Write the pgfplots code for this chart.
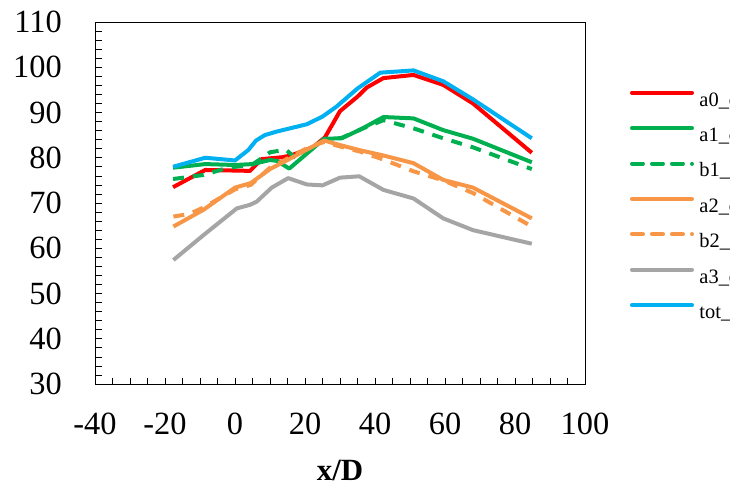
\documentclass[border=0pt]{standalone}
\usepackage{fontspec}
\setmainfont{Liberation Serif}
\usepackage{pgfplots}
\pgfplotsset{compat=1.18}
\definecolor{cred}{RGB}{255,0,0}
\definecolor{cgreen}{RGB}{0,176,80}
\definecolor{corange}{RGB}{247,150,70}
\definecolor{cgray}{RGB}{165,165,165}
\definecolor{cblue}{RGB}{0,176,240}
\begin{document}
\begin{tikzpicture}
\useasboundingbox (0,0) rectangle (730bp,486bp);
\clip (0,0) rectangle (730bp,486bp);
\begin{axis}[
  at={(95bp,102bp)}, anchor=south west,
  scale only axis, width=490bp, height=362bp,
  xmin=-40, xmax=100, ymin=30, ymax=110,
  xtick={-40,-20,...,100}, ytick={30,40,...,110},
  minor x tick num=3, minor y tick num=4,
  tick pos=left,
  tick align=inside, major tick length=6.5bp, minor tick length=6.5bp,
  tick style={black, line width=0.6bp},
  axis line style={black, line width=0.8bp},
  /pgf/number format/assume math mode=true,
  ticklabel style={font=\fontsize{32.5}{36}\selectfont},
  xticklabel style={anchor=north, inner sep=0pt, yshift=-29bp},
  yticklabel style={anchor=east, inner sep=0pt, xshift=-33bp},
  xlabel={\textbf{x/D}},
  xlabel style={at={(axis description cs:0.5,0)}, anchor=north, inner sep=0pt, yshift=-76bp, font=\fontsize{31}{34}\selectfont},
  every axis plot/.append style={line width=4bp, line join=round},
  legend style={at={(axis description cs:1.0918,0.8102)}, anchor=north west, draw=none, fill=none, inner sep=0pt, outer sep=0pt, row sep=16bp, column sep=5.5bp, font=\fontsize{20.5}{23}\selectfont, nodes={inner sep=0pt, text height=14bp, text depth=4bp}},
  legend cell align=left,
  legend image code/.code={\draw[#1, line cap=round] (0bp,8.4bp) -- (60bp,8.4bp);},
]
\addplot[cred] coordinates {(-17.7,73.5) (-8.5,77.3) (4.3,77.1) (7.6,79.7) (13.3,80.1) (16,80.5) (22.4,82.4) (25.7,84.5) (30,90.3) (35,93.5) (37.6,95.5) (42.4,97.6) (51,98.3) (59.5,96.1) (68,92.0) (84.8,81.1)};
\addlegendentry{a0\_c}
\addplot[cgreen] coordinates {(-17.7,77.8) (-8.5,78.6) (0,78.4) (5,78.6) (10,79.5) (12,79.3) (15.5,77.6) (25.5,84.2) (30.5,84.3) (36,86.3) (42.4,89.0) (51,88.7) (59.5,86.1) (68,84.2) (84.8,79.0)};
\addlegendentry{a1\_c}
\addplot[cgreen, dash pattern=on 11bp off 9bp] coordinates {(-17.7,75.3) (-9,76.2) (-2,77.8) (5,78.5) (10,81.2) (14.5,81.8) (17.5,79.8) (20,80.8) (25.5,84.0) (30.5,84.4) (36,86.3) (42.4,88.3) (51,86.5) (59.5,84.3) (68,82.3) (84.8,77.5)};
\addlegendentry{b1\_c}
\addplot[corange] coordinates {(-17.6,64.8) (-9,68.5) (0,73.4) (4.5,74.4) (10,77.5) (16.7,80.2) (21,82.0) (25.5,83.8) (30,82.8) (36,81.6) (42.4,80.5) (51,78.8) (59.5,75.1) (68,73.4) (84.8,66.6)};
\addlegendentry{a2\_c}
\addplot[corange, dash pattern=on 11bp off 9bp] coordinates {(-17.6,67.0) (-13,67.6) (-9,69.0) (0,73.0) (4.5,74.0) (10,77.8) (16.7,80.5) (21,82.3) (25.5,83.5) (30,82.5) (36,81.3) (42.4,79.6) (51,77.0) (59.5,75.0) (68,72.2) (84.8,64.8)};
\addlegendentry{b2\_c}
\addplot[cgray] coordinates {(-17.6,57.4) (-9,62.9) (0.5,68.8) (4.3,69.6) (6.2,70.3) (10.5,73.4) (15.2,75.5) (20.5,74.1) (25,73.9) (30,75.6) (35.5,75.9) (42.4,72.9) (51,71.0) (59.5,66.6) (68,64.0) (84.8,61.0)};
\addlegendentry{a3\_c}
\addplot[cblue] coordinates {(-17.7,78.0) (-8.5,80.0) (0,79.4) (3.8,81.7) (6,83.8) (8.5,85.0) (12,85.8) (20.5,87.4) (25,89.1) (29,91.3) (35,95.3) (41.5,98.8) (51,99.3) (59.5,96.9) (68,92.9) (84.8,84.3)};
\addlegendentry{tot\_c}
\end{axis}
\end{tikzpicture}
\end{document}
